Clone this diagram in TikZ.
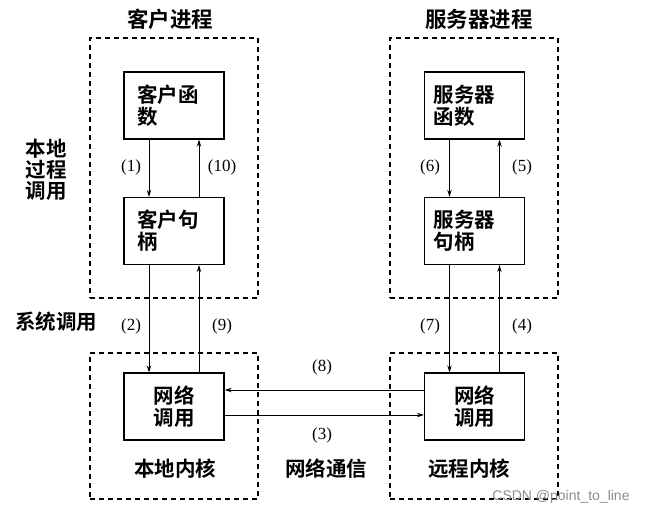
\documentclass[tikz,border=0pt]{standalone}
\usepackage{fontspec}
\setmainfont{Liberation Serif}
\newfontfamily\cjk{Noto Sans CJK SC}[UprightFont=* Bold]
\newfontfamily\wm{Liberation Sans}
\usetikzlibrary{arrows.meta}
\begin{document}
\begin{tikzpicture}[x=1pt,y=-1pt,
  dashbox/.style={draw, line width=1.3pt, dash pattern=on 5pt off 4pt},
  fbox/.style={draw, line width=1.3pt, minimum width=100pt, minimum height=67pt, inner sep=0pt,
     font=\cjk\fontsize{20.5}{22}\selectfont, align=left},
  cbox/.style={fbox, align=center},
  lbl/.style={font=\cjk\fontsize{20.5}{22}\selectfont, inner sep=0pt},
  num/.style={font=\fontsize{17}{19}\selectfont, inner sep=0pt},
  arr/.style={line width=1pt, -{Stealth[length=7pt,width=4.5pt]}}]
\useasboundingbox (0,0) rectangle (650,517);
\fill[white] (0,0) rectangle (650,517);
% dashed containers
\node[dashbox, minimum width=168pt, minimum height=260pt, inner sep=0pt] (cp) at (174,168) {};
\node[dashbox, minimum width=168pt, minimum height=146pt, inner sep=0pt] (ck) at (174,426) {};
\node[dashbox, minimum width=168pt, minimum height=260pt, inner sep=0pt] (sp) at (474,168) {};
\node[dashbox, minimum width=168pt, minimum height=146pt, inner sep=0pt] (sk) at (474,426) {};
% boxes
\node[fbox, text width=74pt] (cf) at (174,105.5) {客户函\\数};
\node[fbox, text width=74pt] (cs) at (174,231) {客户句\\柄};
\node[cbox] (cn) at (174,406.5) {网络\\调用};
\node[fbox, text width=82pt] (sf) at (474.5,105.5) {服务器\\函数};
\node[fbox, text width=82pt] (ss) at (474.5,231) {服务器\\句柄};
\node[cbox] (sn) at (474.5,406.5) {网络\\调用};
% titles and labels
\node[lbl, font=\cjk\fontsize{21.5}{23}\selectfont] (t1) at (170,19) {客户进程};
\node[lbl, font=\cjk\fontsize{21.5}{23}\selectfont] (t2) at (479,19) {服务器进程};
\node[lbl, align=left, font=\cjk\fontsize{20.5}{21}\selectfont] (lp) at (46,170) {本地\\过程\\调用};
\node[lbl] (sc) at (56,322) {系统调用};
\node[lbl] (lk) at (175,469) {本地内核};
\node[lbl] (rk) at (469,469) {远程内核};
\node[lbl] (nc) at (326,469) {网络通信};
% arrows
\draw[arr] ([xshift=-25pt]cf.south) -- ([xshift=-25pt]cs.north);
\draw[arr] ([xshift=25pt]cs.north) -- ([xshift=25pt]cf.south);
\draw[arr] ([xshift=-25pt]cs.south) -- ([xshift=-25pt]cn.north);
\draw[arr] ([xshift=25pt]cn.north) -- ([xshift=25pt]cs.south);
\draw[arr] ([xshift=-25pt]sf.south) -- ([xshift=-25pt]ss.north);
\draw[arr] ([xshift=25pt]ss.north) -- ([xshift=25pt]sf.south);
\draw[arr] ([xshift=-25pt]ss.south) -- ([xshift=-25pt]sn.north);
\draw[arr] ([xshift=25pt]sn.north) -- ([xshift=25pt]ss.south);
\draw[arr] ([yshift=16.5pt]sn.west) -- ([yshift=16.5pt]cn.east);
\draw[arr] ([yshift=-8.5pt]cn.east) -- ([yshift=-8.5pt]sn.west);
% numbers
\node[num] (n1) at (131,167) {(1)};
\node[num] (n10) at (222,167) {(10)};
\node[num] (n6) at (430,167) {(6)};
\node[num] (n5) at (522,167) {(5)};
\node[num] (n2) at (131,326) {(2)};
\node[num] (n9) at (222,326) {(9)};
\node[num] (n7) at (430,326) {(7)};
\node[num] (n4) at (522,326) {(4)};
\node[num] (n8) at (322,367) {(8)};
\node[num] (n3) at (322,435) {(3)};
% watermark
\node[font=\wm\fontsize{14}{16}\selectfont, text=black!45, inner sep=0pt] (w) at (561,497) {CSDN @point\_to\_line};
\end{tikzpicture}
\end{document}
